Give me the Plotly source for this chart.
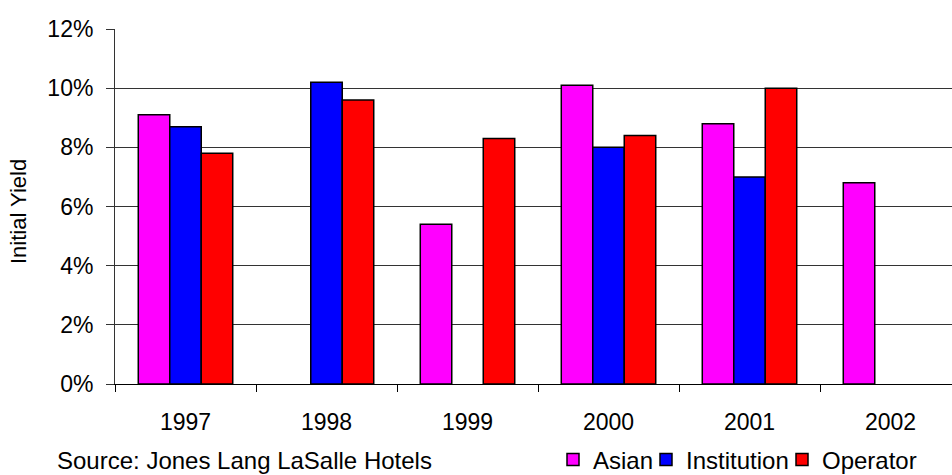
import plotly.graph_objects as go

# Initial yields of hotel transactions by buyer type
years = ["1997", "1998", "1999", "2000", "2001", "2002"]
asian = [0.091, None, 0.054, 0.101, 0.088, 0.068]
institution = [0.087, 0.102, None, 0.080, 0.070, None]
operator = [0.078, 0.096, 0.083, 0.084, 0.100, None]

series_names = ["Asian", "Institution", "Operator"]
series_colors = ["#FF00FF", "#0000FF", "#FF0000"]
y_ticks = [0, 0.02, 0.04, 0.06, 0.08, 0.10, 0.12]

FONT = "Arial, 'Liberation Sans', sans-serif"
W, H = 952, 475
ML, MR, MT, MB = 115, 0, 29, 91
plot_w = W - ML - MR
plot_h = H - MT - MB
cat_px = 141  # width of one year slot in pixels
TEXT_Y = 460  # vertical centre of the footer line (pixels)
legend_left_px = [553, 646, 782]  # left edge of each legend entry


def px_x(px):
    return (px - ML) / plot_w


def px_y(py):
    return (H - MB - py) / plot_h


fig = go.Figure()
legend_ids = ["legend", "legend2", "legend3"]
for name, vals, col, lid in zip(series_names, [asian, institution, operator],
                                series_colors, legend_ids):
    fig.add_trace(go.Bar(
        x=years, y=vals, name=name, legend=lid,
        marker=dict(color=col, line=dict(color="#000000", width=1.5)),
    ))

legend_common = dict(
    orientation="h", xanchor="left", y=px_y(TEXT_Y), yanchor="middle",
    font=dict(size=24), itemwidth=30, bgcolor="rgba(0,0,0,0)",
)
legends = {lid: dict(legend_common, x=px_x(lx)) for lid, lx in zip(legend_ids, legend_left_px)}

fig.update_layout(
    width=W, height=H,
    margin=dict(l=ML, r=MR, t=MT, b=MB, autoexpand=False),
    paper_bgcolor="white", plot_bgcolor="white",
    barmode="group", bargap=0.33, bargroupgap=0,
    font=dict(family=FONT, size=23, color="#000000"),
    showlegend=True,
    **legends,
    xaxis=dict(
        type="category",
        range=[-0.5, -0.5 + plot_w / cat_px],
        showline=True, linecolor="#000000", linewidth=1,
        ticks="outside", ticklen=7, tickcolor="#000000", tickson="boundaries",
        showgrid=False, ticklabelstandoff=17,
        tickfont=dict(size=23),
    ),
    yaxis=dict(
        range=[0, 0.12], tickvals=y_ticks, tickformat=".0%",
        showline=True, linecolor="#333333", linewidth=1,
        ticks="outside", ticklen=8, tickcolor="#333333",
        showgrid=True, gridcolor="#333333", gridwidth=1,
        zeroline=False, ticklabelstandoff=8,
        tickfont=dict(size=23),
    ),
    annotations=[
        dict(text="Initial Yield", textangle=-90, xref="paper", yref="paper",
             x=px_x(18), y=px_y(212), xanchor="center", yanchor="middle",
             showarrow=False, font=dict(size=22)),
        dict(text="Source: Jones Lang LaSalle Hotels", xref="paper", yref="paper",
             x=px_x(55), y=px_y(TEXT_Y),
             xanchor="left", yanchor="middle", showarrow=False, font=dict(size=24)),
    ],
)

fig.write_html("out.html")
